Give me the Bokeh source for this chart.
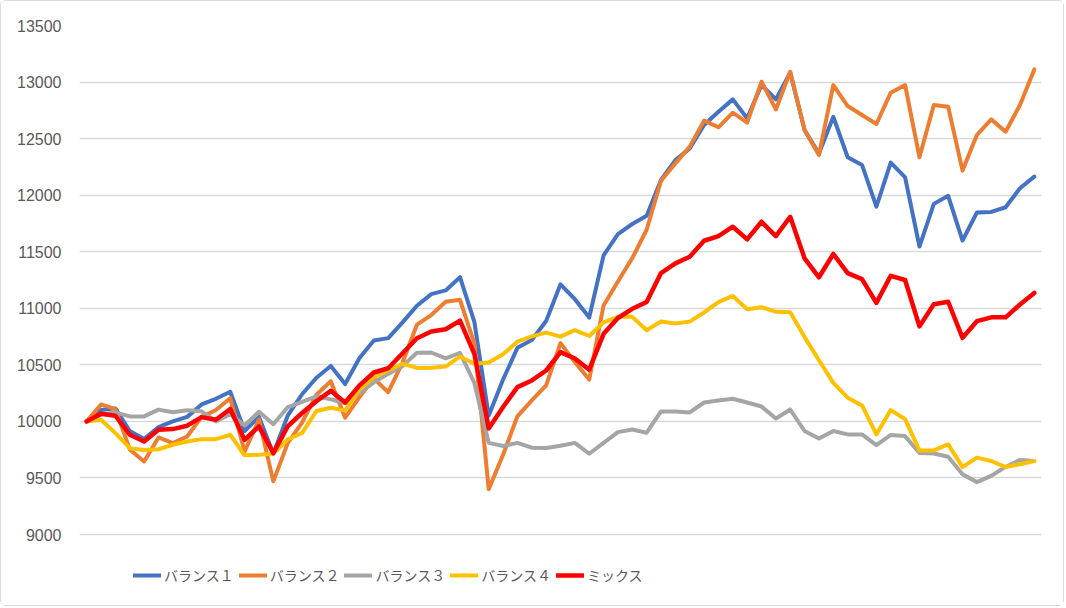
from bokeh.plotting import figure
from bokeh.models import Range1d, FixedTicker, Legend, LegendItem
from bokeh.embed import file_html
from bokeh.resources import INLINE

# ---- data ----
series_names = ["バランス１", "バランス２", "バランス３", "バランス４", "ミックス"]
series_colors = ["#4472C4", "#ED7D31", "#A5A5A5", "#FFC000", "#FF0000"]

balance1 = [10000, 10100, 10115, 9915, 9845, 9950, 10000, 10040, 10150, 10200,
            10262, 9915, 10040, 9715, 10050, 10240, 10386, 10490, 10330, 10560,
            10716, 10736, 10875, 11022, 11125, 11158, 11275, 10880, 10050, 10370,
            10650, 10720, 10888, 11212, 11080, 10918, 11468, 11656, 11745, 11818,
            12135, 12310, 12413, 12620, 12738, 12847, 12679, 12974, 12847, 13083,
            12575, 12369, 12693, 12335, 12267, 11899, 12288, 12158, 11546, 11923,
            11994, 11599, 11846, 11852, 11893, 12061, 12164]

balance2 = [10000, 10150, 10108, 9752, 9645, 9858, 9808, 9866, 10040, 10100,
            10205, 9735, 10015, 9470, 9808, 9990, 10235, 10355, 10033, 10215,
            10380, 10258, 10520, 10855, 10940, 11058, 11075, 10690, 9400, 9705,
            10045, 10185, 10318, 10692, 10524, 10370, 11025, 11237, 11444, 11694,
            12128, 12281, 12429, 12659, 12600, 12729, 12641, 13003, 12758, 13091,
            12576, 12355, 12973, 12788, 12709, 12629, 12906, 12974, 12335, 12797,
            12782, 12217, 12532, 12670, 12561, 12797, 13112]

balance3 = [10000, 10060, 10080, 10044, 10044, 10104, 10080, 10098, 10089, 10000,
            10064, 9965, 10085, 9975, 10125, 10172, 10222, 10195, 10160, 10250,
            10345, 10420, 10490, 10606, 10609, 10558, 10605, 10340, 9810, 9782,
            9810, 9768, 9765, 9785, 9810, 9714, 9810, 9905, 9928, 9900,
            10088, 10088, 10079, 10167, 10185, 10200, 10167, 10132, 10025, 10105,
            9915, 9848, 9915, 9885, 9885, 9790, 9880, 9870, 9720, 9716,
            9687, 9532, 9463, 9518, 9599, 9659, 9650]

balance4 = [10000, 10015, 9896, 9763, 9748, 9754, 9793, 9822, 9843, 9843,
            9882, 9700, 9706, 9715, 9840, 9897, 10092, 10120, 10095, 10283,
            10390, 10450, 10510, 10473, 10474, 10485, 10573, 10510, 10520, 10594,
            10705, 10752, 10785, 10749, 10807, 10755, 10875, 10924, 10924, 10806,
            10883, 10865, 10882, 10963, 11055, 11109, 10992, 11009, 10969, 10965,
            10745, 10540, 10340, 10210, 10141, 9885, 10100, 10020, 9743, 9743,
            9797, 9596, 9680, 9650, 9596, 9621, 9650]

mix = [10000, 10068, 10050, 9882, 9822, 9926, 9932, 9962, 10038, 10015,
       10110, 9837, 9956, 9719, 9956, 10074, 10178, 10270, 10167, 10318,
       10432, 10470, 10603, 10735, 10794, 10815, 10890, 10597, 9938, 10127,
       10303, 10362, 10450, 10612, 10556, 10457, 10774, 10914, 10995, 11056,
       11311, 11397, 11456, 11597, 11638, 11721, 11609, 11765, 11638, 11809,
       11441, 11274, 11480, 11311, 11258, 11048, 11287, 11250, 10840, 11035,
       11058, 10739, 10886, 10920, 10920, 11033, 11136]

y_ticks = [9000, 9500, 10000, 10500, 11000, 11500, 12000, 12500, 13000, 13500]

all_series = [balance1, balance2, balance3, balance4, mix]
n = len(balance1)
x = list(range(n))

# ---- layout (pixels) ----
W, H = 1064, 606
left, right, top = 78, 24, 24
grid_bottom = 533          # pixel row of the lowest gridline
frame_bottom = 599         # frame extended to hold the legend
px_per_unit = (grid_bottom - top) / (y_ticks[-1] - y_ticks[0])
y_start = y_ticks[0] - (frame_bottom - grid_bottom) / px_per_unit

p = figure(width=W, height=H, output_backend="svg", toolbar_location=None,
           x_range=Range1d(-0.5, n - 0.5), y_range=Range1d(y_start, y_ticks[-1]),
           min_border_left=left, min_border_right=right, min_border_top=top,
           min_border_bottom=H - frame_bottom,
           styles={"border": "1px solid #D9D9D9", "border-radius": "6px"})

p.outline_line_color = None
p.background_fill_color = "white"
p.border_fill_color = "white"

p.xaxis.visible = False
p.xgrid.grid_line_color = None

p.yaxis.ticker = FixedTicker(ticks=y_ticks)
p.yaxis.axis_line_color = None
p.yaxis.major_tick_line_color = None
p.yaxis.minor_tick_line_color = None
p.yaxis.major_label_text_font = "Liberation Sans"
p.yaxis.major_label_text_font_size = "16px"
p.yaxis.major_label_text_color = "#595959"
p.yaxis.major_label_standoff = 12
p.ygrid.ticker = FixedTicker(ticks=y_ticks)
p.ygrid.grid_line_color = "#D9D9D9"
p.ygrid.grid_line_width = 1.5

line_widths = [4, 4, 4, 4, 4.5]
items = []
for name, color, lw, data in zip(series_names, series_colors, line_widths, all_series):
    r = p.line(x, data, line_color=color, line_width=lw, line_join="round", line_cap="round")
    items.append(LegendItem(label=name, renderers=[r]))

legend = Legend(items=items, orientation="horizontal",
                location=(132 - left, frame_bottom - 584),
                glyph_width=28, glyph_height=20, label_height=20,
                label_standoff=3, spacing=5, padding=0, margin=0,
                border_line_color=None, background_fill_alpha=0,
                label_text_font="Noto Sans CJK JP", label_text_font_size="14px",
                label_text_color="#595959")
p.add_layout(legend, "center")

open("out.html", "w").write(file_html(p, INLINE))
